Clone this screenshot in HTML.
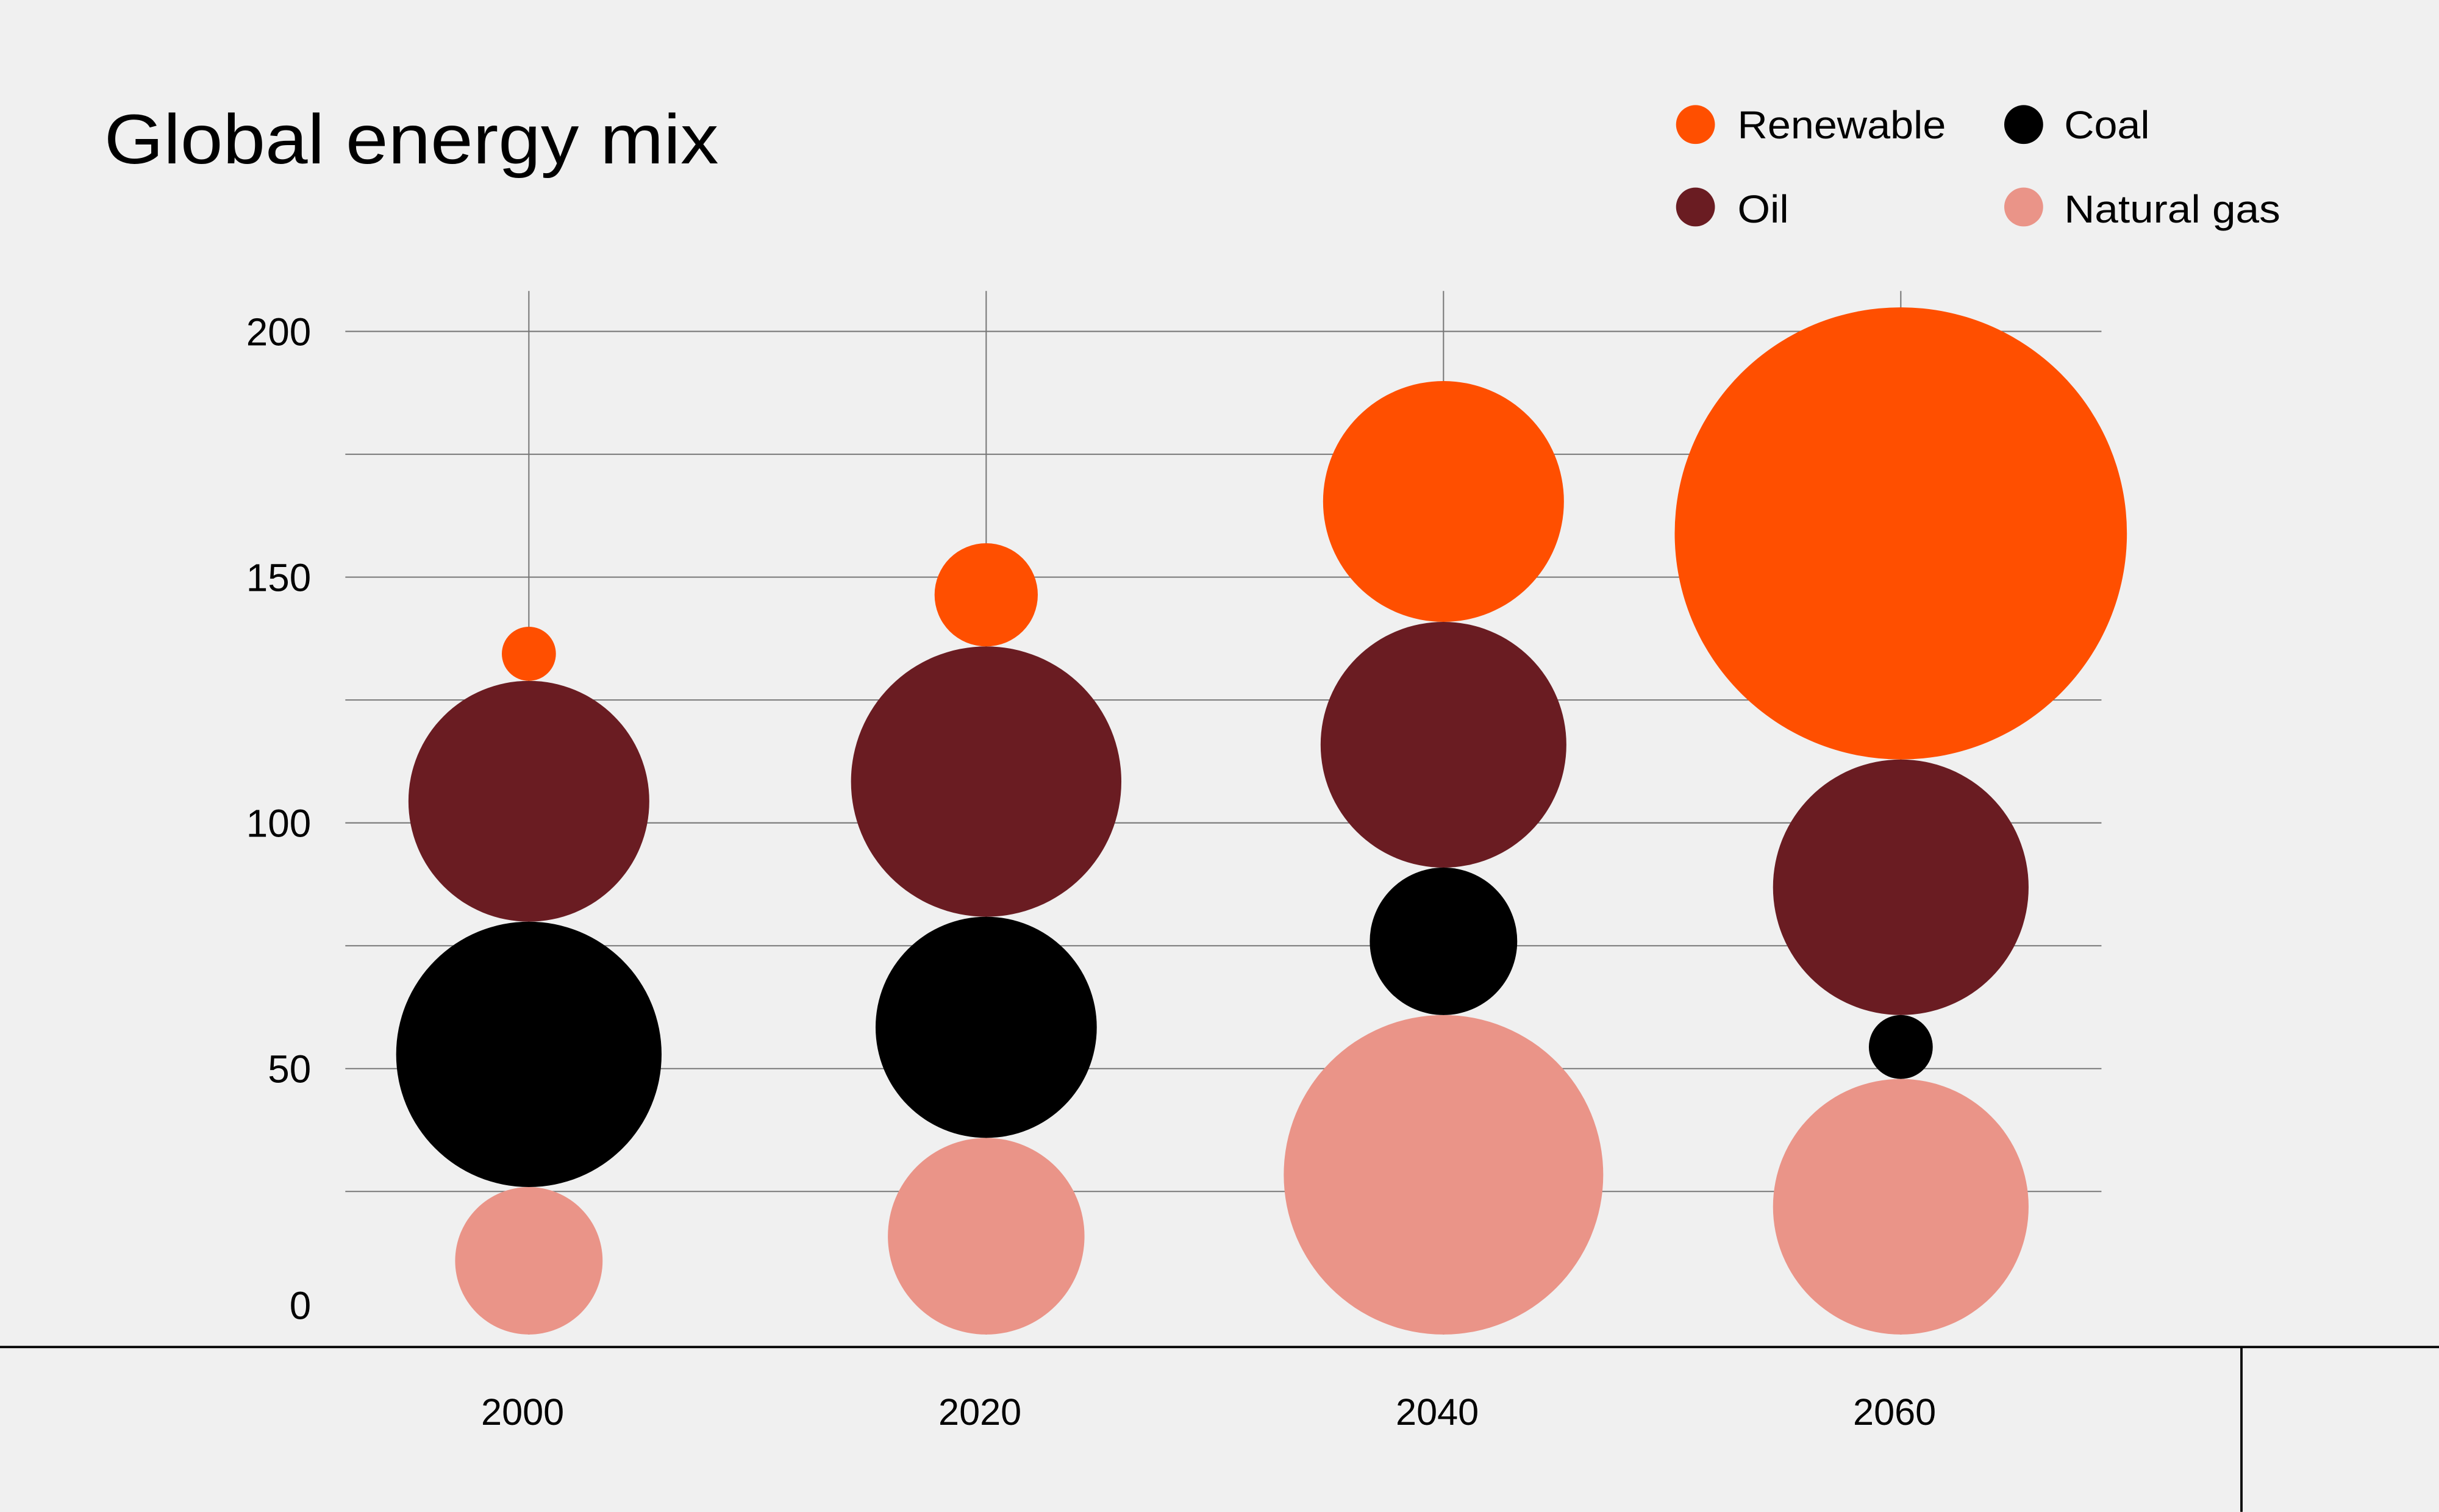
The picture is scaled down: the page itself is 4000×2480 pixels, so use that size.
<!DOCTYPE html>
<html><head><meta charset="utf-8"><style>
html,body{margin:0;padding:0;background:#f0f0f0;}
svg{display:block;font-family:"Liberation Sans",sans-serif;}
</style></head><body>
<svg id="chart" width="4000" height="2480" viewBox="0 0 1568 972" xmlns="http://www.w3.org/2000/svg">
<rect x="0" y="0" width="1568" height="972" fill="#f0f0f0"/>
<text x="67" y="105" font-size="45" fill="#000" textLength="395" lengthAdjust="spacingAndGlyphs">Global energy mix</text>
<g>
<g><circle cx="1090" cy="80" r="12.5" fill="#ff4f00"/><text x="1117" y="89" font-size="25" textLength="134" lengthAdjust="spacingAndGlyphs">Renewable</text></g>
<g><circle cx="1301" cy="80" r="12.5" fill="#000"/><text x="1327" y="89" font-size="25" textLength="55" lengthAdjust="spacingAndGlyphs">Coal</text></g>
<g><circle cx="1090" cy="133" r="12.5" fill="#6a1c22"/><text x="1117" y="143" font-size="25" textLength="33" lengthAdjust="spacingAndGlyphs">Oil</text></g>
<g><circle cx="1301" cy="133" r="12.5" fill="#ea9488"/><text x="1327" y="143" font-size="25" textLength="139" lengthAdjust="spacingAndGlyphs">Natural gas</text></g>
</g>
<g id="grid"></g>
<g id="yticks"></g>
<g id="bubbles"></g>
<g id="xticks"></g>
<line x1="0" y1="866" x2="1568" y2="866" stroke="#000" stroke-width="1.5"/>
<line x1="1441" y1="866" x2="1441" y2="972" stroke="#000" stroke-width="1.5"/>
</svg>
<script>
const categories = ["2000", "2020", "2040", "2060"];
const seriesNames = ["Natural gas", "Coal", "Oil", "Renewable"];
const gasValues = [30, 40, 65, 52];
const coalValues = [54, 45, 30, 13];
const oilValues = [49, 55, 50, 52];
const renewableValues = [11, 21, 49, 92];
const yTickLabels = ["0", "50", "100", "150", "200"];
const gridValues = [25, 50, 75, 100, 125, 150, 175, 200];

const NS = "http://www.w3.org/2000/svg";
const colors = ["#ea9488", "#000000", "#6a1c22", "#ff4f00"];
const seriesKeys = ["natural-gas", "coal", "oil", "renewable"];
const series = [gasValues, coalValues, oilValues, renewableValues];
const pxPerUnit = 79 / 25;
const y0 = 845;
const baseValue = -4.1;
function yScale(v) { return y0 - v * pxPerUnit; }
function xScale(i) { return 340 + i * 294; }
function mk(tag, attrs, parent) {
  const el = document.createElementNS(NS, tag);
  for (const k in attrs) el.setAttribute(k, attrs[k]);
  parent.appendChild(el);
  return el;
}
const grid = document.getElementById("grid");
gridValues.forEach(v => {
  const l = mk("line", {x1: 222, x2: 1351, y1: yScale(v), y2: yScale(v), stroke: "#777", "stroke-width": 0.8}, grid);
  
  
});
categories.forEach((c, i) => {
  const l = mk("line", {x1: xScale(i), x2: xScale(i), y1: 187, y2: 858, stroke: "#777", "stroke-width": 0.8}, grid);
  
  
});
const yt = document.getElementById("yticks");
yTickLabels.forEach(t => {
  const e = mk("text", {x: 200, y: yScale(+t) + 9 - (t === "0" ? 6 : 0), "font-size": 25, "text-anchor": "end", fill: "#000"}, yt);
  e.textContent = t;
  
  
});
const xt = document.getElementById("xticks");
categories.forEach((c, i) => {
  const e = mk("text", {x: xScale(i) - 4, y: 916, "font-size": 24, "text-anchor": "middle", fill: "#000"}, xt);
  e.textContent = c;
  
  
});
const bub = document.getElementById("bubbles");
categories.forEach((c, i) => {
  let cum = baseValue;
  series.forEach((arr, s) => {
    const d = arr[i];
    const center = cum + d / 2;
    cum += d;
    const circ = mk("circle", {cx: xScale(i), cy: yScale(center), r: d * pxPerUnit / 2, fill: colors[s]}, bub);
    
    
  });
});
</script>
</body></html>
